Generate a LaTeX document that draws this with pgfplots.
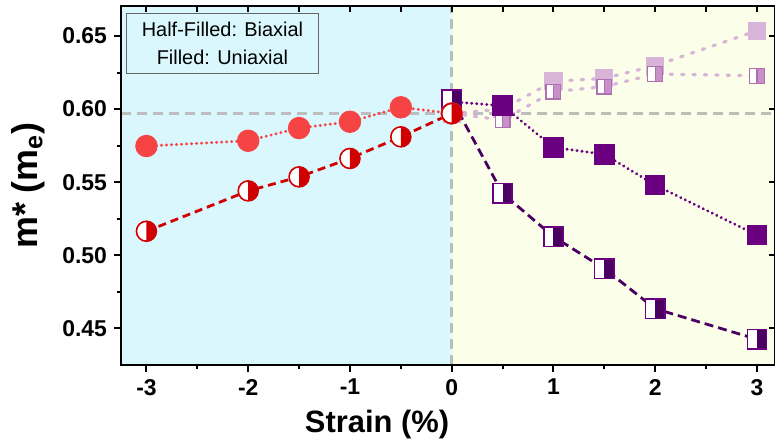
\documentclass[border=0pt]{standalone}
\usepackage{fontspec}
\setmainfont{Liberation Sans}
\usepackage{pgfplots}
\pgfplotsset{compat=1.18}
\definecolor{redF}{HTML}{F64444}
\definecolor{redH}{HTML}{D00000}
\definecolor{purF}{HTML}{6A0080}
\definecolor{purH}{HTML}{4A0060}
\definecolor{lavF}{HTML}{D8B4D8}
\definecolor{lavH}{HTML}{C890C8}
\definecolor{lavB}{HTML}{B070B0}
\definecolor{cyanbg}{HTML}{D9F7FC}
\definecolor{yellbg}{HTML}{FBFEE9}
\definecolor{refgray}{HTML}{BDBDBD}

\pgfdeclareplotmark{halfcircR}{%
  \pgfpathcircle{\pgfpointorigin}{\pgfplotmarksize}%
  \pgfsetfillcolor{white}\pgfusepath{fill}%
  \pgfpathmoveto{\pgfpoint{0pt}{-\pgfplotmarksize}}%
  \pgfpatharc{-90}{90}{\pgfplotmarksize}%
  \pgfpathclose
  \pgfsetfillcolor{redH}\pgfusepath{fill}%
  \pgfpathcircle{\pgfpointorigin}{\pgfplotmarksize}%
  \pgfusepath{stroke}%
}
\pgfdeclareplotmark{halfsqD}{%
  \pgfpathrectanglecorners{\pgfpoint{-\pgfplotmarksize}{-\pgfplotmarksize}}{\pgfpoint{\pgfplotmarksize}{\pgfplotmarksize}}%
  \pgfsetfillcolor{white}\pgfusepath{fill}%
  \pgfpathrectanglecorners{\pgfpoint{0pt}{-\pgfplotmarksize}}{\pgfpoint{\pgfplotmarksize}{\pgfplotmarksize}}%
  \pgfsetfillcolor{purH}\pgfusepath{fill}%
  \pgfpathrectanglecorners{\pgfpoint{-\pgfplotmarksize}{-\pgfplotmarksize}}{\pgfpoint{\pgfplotmarksize}{\pgfplotmarksize}}%
  \pgfusepath{stroke}%
}
\pgfdeclareplotmark{halfsqL}{%
  \pgfpathrectanglecorners{\pgfpoint{-\pgfplotmarksize}{-\pgfplotmarksize}}{\pgfpoint{\pgfplotmarksize}{\pgfplotmarksize}}%
  \pgfsetfillcolor{white}\pgfusepath{fill}%
  \pgfpathrectanglecorners{\pgfpoint{0pt}{-\pgfplotmarksize}}{\pgfpoint{\pgfplotmarksize}{\pgfplotmarksize}}%
  \pgfsetfillcolor{lavH}\pgfusepath{fill,stroke}%
  \pgfpathrectanglecorners{\pgfpoint{-\pgfplotmarksize}{-\pgfplotmarksize}}{\pgfpoint{\pgfplotmarksize}{\pgfplotmarksize}}%
  \pgfusepath{stroke}%
}

\pgfplotstableread{
x y
-3 0.5747
-2 0.5783
-1.5 0.5870
-1 0.5913
-0.5 0.6012
0 0.5970
}\redfilled
\pgfplotstableread{
x y
-3 0.5164
-2 0.5440
-1.5 0.5536
-1 0.5662
-0.5 0.5810
0 0.5970
}\redhalf
\pgfplotstableread{
x y
0 0.6050
0.5 0.6023
1 0.5738
1.5 0.5690
2 0.5480
3 0.5137
}\purfilled
\pgfplotstableread{
x y
0 0.6065
0.5 0.5423
1 0.5127
1.5 0.4908
2 0.4634
3 0.4425
}\purhalf
\pgfplotstableread{
x y
0 0.5970
0.5 0.6000
1 0.6190
1.5 0.6210
2 0.6297
3 0.6536
}\lavfilled
\pgfplotstableread{
x y
0 0.5970
0.5 0.5925
1 0.6119
1.5 0.6153
2 0.6240
3 0.6228
}\lavhalf

\begin{document}
\begin{tikzpicture}
\begin{axis}[name=ax, scale only axis, width=327bp, height=179.5bp,
  xmin=-3.25, xmax=3.177, ymin=0.4249, ymax=0.6705,
  axis on top,
  axis line style={line width=1bp},
  every tick/.style={line width=1bp, black},
  tick pos=left, tick align=outside,
  major tick length=3.5bp, minor tick length=2.2bp,
  xtick={-3,-2,...,3}, minor x tick num=1,
  ytick={0.45,0.50,0.55,0.60,0.65}, minor y tick num=1,
  /pgf/number format/assume math mode=true,
  ticklabel style={font=\fontsize{11.5}{13}\selectfont\bfseries},
  yticklabel style={/pgf/number format/.cd, fixed, fixed zerofill, precision=2},
  xticklabel style={/pgf/number format/.cd, fixed},
]
\fill[cyanbg] (axis cs:-3.25,0.4249) rectangle (axis cs:0,0.6705);
\fill[yellbg] (axis cs:0,0.4249) rectangle (axis cs:3.177,0.6705);
\addplot[refgray, line width=1.6bp, dash pattern=on 5bp off 3bp] coordinates {(0,0.4249) (0,0.6705)};
\addplot[refgray, line width=1.6bp, dash pattern=on 5bp off 3bp] coordinates {(-3.25,0.597) (3.177,0.597)};
% lavender series
\addplot[lavF, line width=1.6bp, line cap=round, dash pattern=on 1.2bp off 4.5bp,
  mark=square*, mark size=3.75bp, mark options={solid, fill=lavF, draw=lavF}] table {\lavfilled};
\addplot[lavF, line width=1.6bp, line cap=round, dash pattern=on 1.2bp off 4.5bp,
  mark=halfsqL, mark size=3.7bp, mark options={solid, draw=lavB, line width=0.6bp}] table {\lavhalf};
% purple series
\addplot[purF, line width=1.6bp, line cap=round, dash pattern=on 0.01bp off 2.5bp,
  mark=square*, mark size=4.3bp, mark options={solid, fill=purF, draw=purF}] table {\purfilled};
\addplot[purH, line width=1.4bp, dash pattern=on 4.5bp off 2.5bp,
  mark=halfsqD, mark size=4.8bp, mark options={solid, draw=purF, line width=0.7bp}] table {\purhalf};
% red series
\addplot[redF, line width=1.6bp, line cap=round, dash pattern=on 0.01bp off 2.5bp,
  mark=*, mark size=4.8bp, mark options={solid, fill=redF, draw=redF}] table {\redfilled};
\addplot[redH, line width=1.4bp, dash pattern=on 4bp off 2.5bp,
  mark=halfcircR, mark size=5bp, mark options={solid, draw=redH, line width=0.8bp}] table {\redhalf};
\end{axis}
\begin{axis}[scale only axis, width=327bp, height=179.5bp,
  xmin=-3.25, xmax=3.177, ymin=0.4249, ymax=0.6705,
  axis line style={line width=1bp},
  every tick/.style={line width=1bp, black},
  xtick pos=right, ytick pos=right, tick align=inside,
  major tick length=3bp,
  xtick={-3,-2.5,...,3}, ytick={0.45,0.50,0.55,0.60,0.65},
  xticklabels={}, yticklabels={},
]
\end{axis}
\node[draw=gray!80!black, line width=0.5bp, fill=cyanbg, anchor=north west, minimum width=96bp, minimum height=30bp,
  align=center, inner sep=0pt, font=\fontsize{10}{14}\selectfont]
  at ([xshift=2.5bp,yshift=-3.5bp]ax.north west) {Half-Filled: Biaxial\\Filled: Uniaxial};
\node[rotate=90, anchor=south, inner sep=0pt, font=\fontsize{18}{20}\selectfont\bfseries]
  at ([xshift=-38bp]ax.west) {m* (m\textsubscript{e})};
\node[anchor=north, inner sep=0pt, font=\fontsize{15.5}{18}\selectfont\bfseries]
  at ([xshift=-35.5bp, yshift=-22.5bp]ax.south) {Strain (\%)};
\pgfresetboundingbox
\path[use as bounding box] ([shift={(-60.5bp,-41bp)}]ax.south west) rectangle ([shift={(0bp,3bp)}]ax.north east);
\end{tikzpicture}
\end{document}
